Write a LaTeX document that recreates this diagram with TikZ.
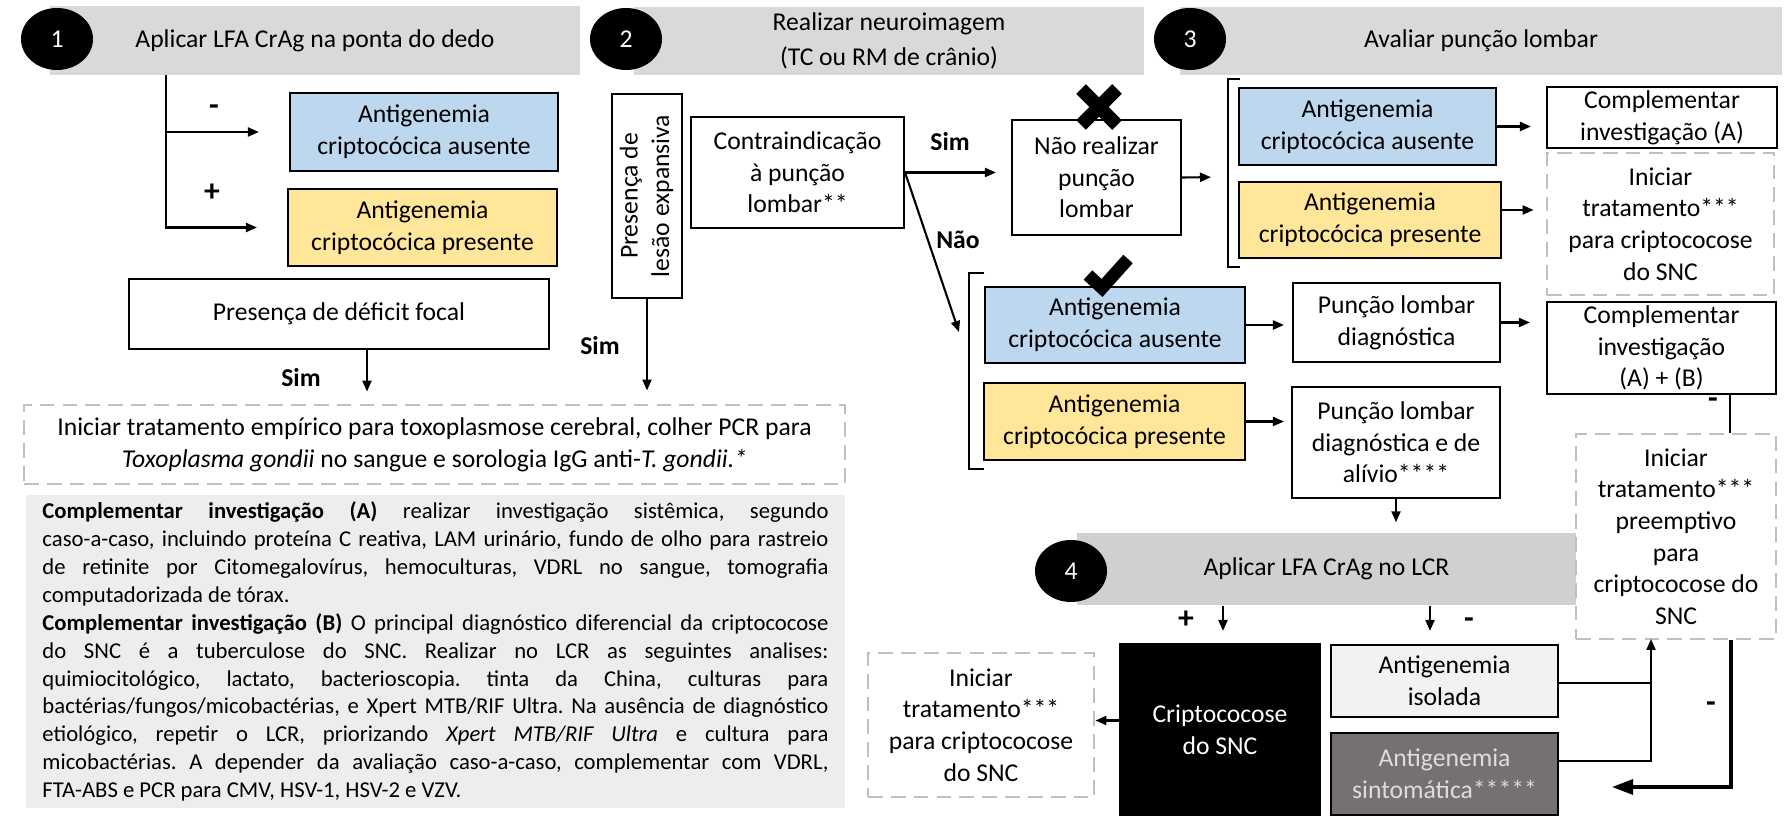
\documentclass[tikz,border=0pt]{standalone}
\usepackage{fontspec}
\setmainfont{Carlito}
\usetikzlibrary{arrows.meta,shapes.geometric}
\frenchspacing

\definecolor{hdrgray}{HTML}{D9D9D9}
\definecolor{hdrgraylcr}{HTML}{D0D0D0}
\definecolor{azul}{HTML}{BDD7EE}
\definecolor{amarelo}{HTML}{FFE699}
\definecolor{notegray}{HTML}{EDEDED}
\definecolor{dashgray}{HTML}{BFBFBF}
\definecolor{isogray}{HTML}{F2F2F2}
\definecolor{sintgray}{HTML}{767171}
\definecolor{sinttext}{HTML}{DDDDDD}

\tikzset{
  box/.style={draw, line width=0.6pt, align=center, inner sep=1pt},
  ausbox/.style={box, fill=azul},
  presbox/.style={box, fill=amarelo},
  tratbox/.style={draw=dashgray, line width=0.8pt, dash pattern=on 4.2pt off 2.3pt, align=center, inner sep=1pt},
  hdr/.style={fill=hdrgray, align=center, inner sep=0pt},
  num/.style={ellipse, fill=black, text=white, minimum width=0.72cm, minimum height=0.62cm, inner sep=0pt},
  arr/.style={-{Triangle[length=0.11cm,width=0.09cm]}, line width=0.6pt},
  bigarr/.style={-{Triangle[length=0.21cm,width=0.15cm]}, line width=0.9pt},
  resp/.style={font=\fontsize{7.3}{9}\bfseries, inner sep=0pt},
  sinal/.style={font=\fontsize{9}{9}\bfseries, inner sep=0pt}
}

\begin{document}
\begin{tikzpicture}[x=1cm,y=-1cm,font=\fontsize{7.3}{9}\selectfont]
\useasboundingbox (0,0) rectangle (17.87,8.18);
\node[hdr, minimum width=5.30cm, minimum height=0.69cm] (hdrone) at (3.15,0.405) {Aplicar LFA CrAg na ponta do dedo};
\node[num] (numone) at (0.57,0.39) {1};
\node[hdr, minimum width=5.10cm, minimum height=0.68cm, font=\fontsize{7.3}{9.8}\selectfont] (hdrtwo) at (8.89,0.41) {Realizar neuroimagem\\(TC ou RM de crânio)};
\node[num] (numtwo) at (6.26,0.39) {2};
\node[hdr, minimum width=6.02cm, minimum height=0.68cm] (hdrthree) at (14.81,0.41) {Avaliar punção lombar};
\node[num] (numthree) at (11.90,0.39) {3};
\node[hdr, fill=hdrgraylcr, minimum width=4.99cm, minimum height=0.72cm] (hdrfour) at (13.265,5.69) {Aplicar LFA CrAg no LCR};
\node[num] (numfour) at (10.71,5.71) {4};

\node[ausbox, minimum width=2.68cm, minimum height=0.78cm] (ausone) at (4.24,1.32) {Antigenemia\\criptocócica ausente};
\node[presbox, minimum width=2.69cm, minimum height=0.77cm] (presone) at (4.225,2.275) {Antigenemia\\criptocócica presente};
\node[box, minimum width=4.20cm, minimum height=0.70cm] (deficit) at (3.39,3.14) {Presença de déficit focal};
\node[tratbox, minimum width=8.21cm, minimum height=0.79cm] (toxo) at (4.345,4.445) {Iniciar tratamento empírico para toxoplasmose cerebral, colher PCR para\\\textit{Toxoplasma gondii} no sangue e sorologia IgG anti-\textit{T. gondii.*}};
\node[fill=notegray, minimum width=8.19cm, minimum height=3.13cm, inner xsep=0.165cm, inner ysep=0pt, text width=7.86cm, align=justify, font=\fontsize{6.45}{7.95}\selectfont] (notas) at (4.355,6.515) {\tolerance=10000 \textbf{Complementar investigação (A)} realizar investigação sistêmica, segundo\linebreak caso-a-caso, incluindo proteína C reativa, LAM urinário, fundo de olho para rastreio\linebreak de retinite por Citomegalovírus, hemoculturas, VDRL no sangue, tomografia\linebreak computadorizada de tórax.\par \textbf{Complementar investigação (B)} O principal diagnóstico diferencial da criptococose\linebreak do SNC é a tuberculose do SNC. Realizar no LCR as seguintes analises:\linebreak quimiocitológico, lactato, bacterioscopia. tinta da China, culturas para\linebreak bactérias/fungos/micobactérias, e Xpert MTB/RIF Ultra. Na ausência de diagnóstico\linebreak etiológico, repetir o LCR, priorizando \textit{Xpert MTB/RIF Ultra} e cultura para\linebreak micobactérias. A depender da avaliação caso-a-caso, complementar com VDRL,\linebreak FTA-ABS e PCR para CMV, HSV-1, HSV-2 e VZV.};

\coordinate (trunk) at (1.66,0.75);
\draw[arr, shorten >=0.3cm] (trunk) |- (ausone.west);
\draw[arr, shorten >=0.3cm] (trunk) |- (presone.west);
\node[sinal] (menosone) at (2.14,1.10) {-};
\node[sinal] (maisone) at (2.12,1.93) {+};
\draw[arr, shorten >=0.12cm] ([xshift=0.28cm]deficit.south) -- ([xshift=0.28cm]deficit.south |- toxo.north);
\node[resp] (simdef) at (3.01,3.78) {Sim};

\node[box, minimum width=0.70cm, minimum height=2.04cm, inner sep=0pt] (lesao) at (6.47,1.96) {\rotatebox{90}{\begin{tabular}{@{}c@{}}Presença de\\lesão expansiva\end{tabular}}};
\node[box, minimum width=2.13cm, minimum height=1.11cm] (contra) at (7.975,1.725) {Contraindicação\\à punção\\lombar**};
\node[box, minimum width=1.69cm, minimum height=1.15cm] (naoreal) at (10.965,1.775) {Não realizar\\punção\\lombar};
\draw[arr, shorten >=0.13cm] (lesao.south) -- (lesao.south |- toxo.north);
\node[resp] (simlesao) at (6.00,3.46) {Sim};
\draw[arr, shorten >=0.15cm] (contra.east) -- (contra.east -| naoreal.west);
\node[resp] (simcontra) at (9.50,1.42) {Sim};
\coordinate (naotip) at (9.59,3.32);
\draw[arr] (contra.east) -- (naotip);
\node[resp] (naolbl) at (9.58,2.40) {Não};
\draw[line width=3.9pt] (10.81,0.89) -- (11.17,1.25) (11.17,0.89) -- (10.81,1.25);

\draw[line width=0.8pt] (12.40,0.79) -- (12.28,0.79) -- (12.28,2.67) -- (12.40,2.67);
\coordinate (brkone) at (12.28,1.77);
\draw[arr, shorten >=0.17cm] (naoreal.east) -- (brkone);
\draw[line width=0.8pt] (9.84,2.73) -- (9.69,2.73) -- (9.69,4.69) -- (9.84,4.69);

\node[ausbox, minimum width=2.57cm, minimum height=0.77cm] (austhree) at (13.675,1.265) {Antigenemia\\criptocócica ausente};
\node[presbox, minimum width=2.62cm, minimum height=0.76cm] (presthree) at (13.70,2.20) {Antigenemia\\criptocócica presente};
\node[box, minimum width=2.30cm, minimum height=0.61cm] (compa) at (16.62,1.175) {Complementar\\investigação (A)};
\node[tratbox, minimum width=2.27cm, minimum height=1.42cm] (tratone) at (16.605,2.24) {Iniciar\\tratamento***\\para criptococose\\do SNC};
\draw[arr, shorten >=0.15cm] (austhree.east) -- (austhree.east -| compa.west);
\draw[arr, shorten >=0.12cm] ([yshift=0.1cm]presthree.east) -- ([yshift=0.1cm]presthree.east -| tratone.west);

\node[ausbox, minimum width=2.60cm, minimum height=0.76cm] (ausbrtwo) at (11.15,3.25) {Antigenemia\\criptocócica ausente};
\node[presbox, minimum width=2.61cm, minimum height=0.77cm] (presbrtwo) at (11.145,4.215) {Antigenemia\\criptocócica presente};
\node[box, minimum width=2.07cm, minimum height=0.79cm] (pldiag) at (13.965,3.225) {Punção lombar\\diagnóstica};
\node[box, minimum width=2.08cm, minimum height=1.11cm] (plalivio) at (13.96,4.425) {Punção lombar\\diagnóstica e de\\alívio****};
\node[box, minimum width=2.29cm, minimum height=0.92cm] (compab) at (16.615,3.48) {Complementar\\investigação\\(A) + (B)};
\node[tratbox, minimum width=2.00cm, minimum height=2.05cm] (trattwo) at (16.76,5.365) {Iniciar\\tratamento***\\preemptivo\\para\\criptococose do\\SNC};
\draw[line width=3.6pt] (10.88,2.75) -- (11.02,2.88) -- (11.28,2.59);
\draw[arr, shorten >=0.08cm] (ausbrtwo.east) -- (ausbrtwo.east -| pldiag.west);
\draw[arr, shorten >=0.07cm] (presbrtwo.east) -- (presbrtwo.east -| plalivio.west);
\draw[arr, shorten >=0.16cm] (pldiag.east) -- (pldiag.east -| compab.west);
\draw[line width=0.8pt] ([xshift=0.685cm]compab.south) -- ([xshift=0.685cm]compab.south |- trattwo.north);
\node[sinal] (menosab) at (17.13,4.03) {-};
\draw[arr, shorten >=0.1cm] (plalivio.south) -- (plalivio.south |- hdrfour.north);

\node[box, fill=black, text=white, minimum width=2.00cm, minimum height=1.71cm] (criptosnc) at (12.20,7.295) {Criptococose\\do SNC};
\node[box, fill=isogray, minimum width=2.27cm, minimum height=0.72cm] (isolada) at (14.445,6.81) {Antigenemia\\isolada};
\node[box, fill=sintgray, text=sinttext, minimum width=2.27cm, minimum height=0.82cm] (sintom) at (14.445,7.74) {Antigenemia\\sintomática*****};
\node[tratbox, minimum width=2.26cm, minimum height=1.44cm] (tratthree) at (9.81,7.25) {Iniciar\\tratamento***\\para criptococose\\do SNC};
\draw[arr, shorten >=0.12cm] ([xshift=0.03cm]criptosnc.north |- hdrfour.south) -- ([xshift=0.03cm]criptosnc.north);
\draw[arr, shorten >=0.13cm] ([xshift=-0.145cm]isolada.north |- hdrfour.south) -- ([xshift=-0.145cm]isolada.north);
\node[sinal] (maisfour) at (11.86,6.20) {+};
\node[sinal] (menosfour) at (14.69,6.23) {-};
\draw[arr] ([yshift=0.09cm]criptosnc.west) -- ([yshift=0.09cm]criptosnc.west -| tratthree.east);
\coordinate (jn) at (16.51,6.39);
\draw[line width=0.6pt] ([yshift=-0.02cm]isolada.east) -- ([yshift=-0.02cm]isolada.east -| jn);
\draw[arr] ([yshift=0.13cm]sintom.east) -| (jn);
\coordinate (retn) at (16.12,7.87);
\draw[bigarr] ([xshift=0.55cm]trattwo.south) |- (retn);
\node[sinal] (menosret) at (17.11,7.07) {-};
\end{tikzpicture}
\end{document}
